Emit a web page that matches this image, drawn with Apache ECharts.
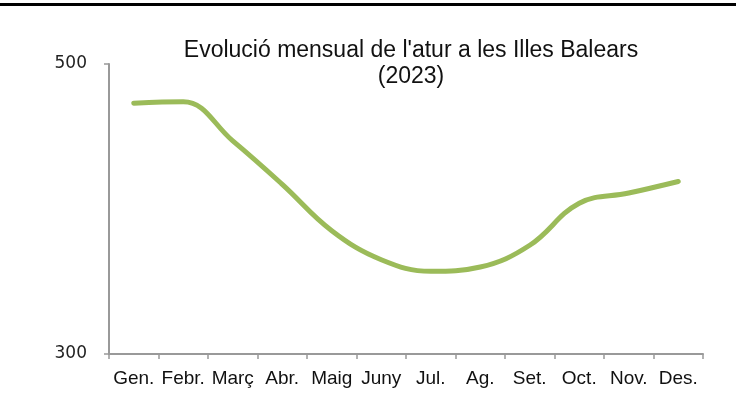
<!DOCTYPE html>
<html>
<head>
<meta charset="utf-8">
<script src="https://cdn.jsdelivr.net/npm/echarts@6/dist/echarts.min.js"></script>
<style>
  html, body { margin: 0; padding: 0; background: #fff; }
  #chart { width: 736px; height: 412px; }
</style>
</head>
<body>
<div id="chart"></div>
<script>
// months (Catalan abbreviations)
const months = ['Gen.', 'Febr.', 'Març', 'Abr.', 'Maig', 'Juny', 'Jul.', 'Ag.', 'Set.', 'Oct.', 'Nov.', 'Des.'];
// unemployment
const atur = [473, 474, 447, 417, 385, 365, 357, 360, 375, 404, 411, 419];
const yMin = 300;
const yMax = 500;

const chart = echarts.init(document.getElementById('chart'));

chart.setOption({
  animation: false,
  title: {
    text: "Evolució mensual de l'atur a les Illes Balears\n(2023)",
    left: 406,
    top: 33,
    textAlign: 'center',
    textStyle: {
      fontFamily: 'Liberation Sans',
      fontSize: 23,
      fontWeight: 'normal',
      color: '#111',
      lineHeight: 26
    }
  },
  graphic: [{
    type: 'rect',
    shape: { x: 0, y: 3, width: 736, height: 3 },
    style: { fill: '#000' }
  }],
  grid: { left: 109, right: 33, top: 64, bottom: 58 },
  xAxis: {
    type: 'category',
    data: months,
    boundaryGap: true,
    axisLine: { lineStyle: { color: '#999', width: 2 } },
    axisTick: { show: true, length: 5, lineStyle: { color: '#999', width: 1.5 } },
    axisLabel: {
      interval: 0,
      margin: 15,
      fontFamily: 'Liberation Sans',
      fontSize: 19,
      color: '#111'
    }
  },
  yAxis: {
    type: 'value',
    min: yMin,
    max: yMax,
    interval: 200,
    splitLine: { show: false },
    axisLine: { show: true, lineStyle: { color: '#999', width: 2 } },
    axisTick: { show: true, length: 5, lineStyle: { color: '#999', width: 1.5 } },
    axisLabel: {
      margin: 22,
      fontFamily: 'DejaVu Sans',
      fontSize: 17,
      color: '#222'
    }
  },
  series: [{
    type: 'line',
    data: atur,
    smooth: 0.4,
    symbol: 'none',
    lineStyle: { color: '#9BBB59', width: 5, cap: 'round' }
  }]
});
</script>
</body>
</html>
